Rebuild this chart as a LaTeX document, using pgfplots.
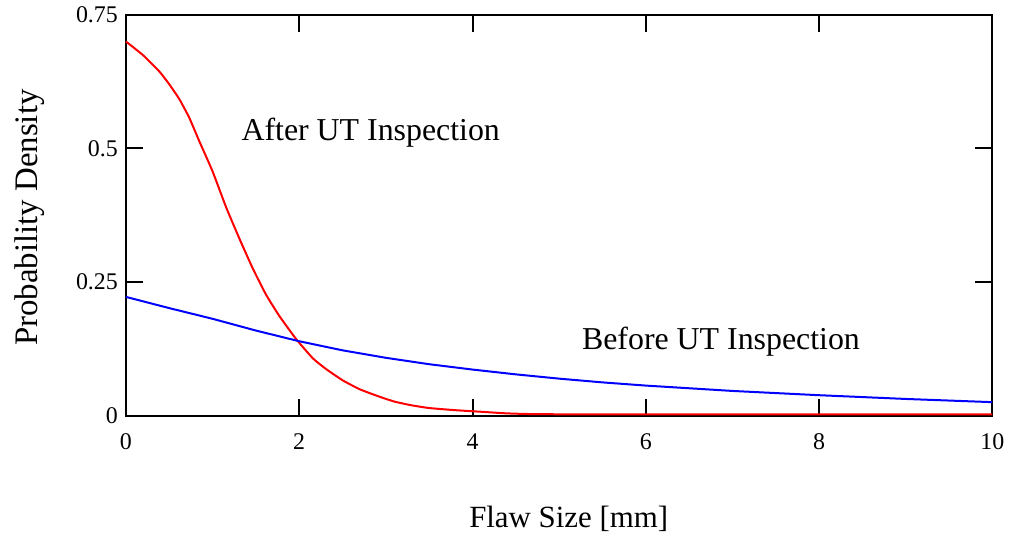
\documentclass[border=0pt]{standalone}
\usepackage{fontspec}
\setmainfont{Liberation Serif}
\usepackage{pgfplots}
\pgfplotsset{compat=1.18}

% flaw size density after UT inspection
\pgfplotstableread{
x y
0     0.700
0.2   0.674
0.385 0.644
0.5   0.620
0.617 0.592
0.732 0.557
0.848 0.513
1.0   0.457
1.156 0.390
1.31  0.331
1.465 0.275
1.618 0.226
1.772 0.186
1.965 0.143
2.158 0.107
2.31  0.087
2.5   0.066
2.7   0.049
2.913 0.036
3.1   0.026
3.3   0.019
3.5   0.014
3.8   0.010
4.1   0.007
4.4   0.004
4.76  0.0025
6     0.002
10    0.002
}\after

% flaw size density before UT inspection
\pgfplotstableread{
x y
0    0.222
0.5  0.201
1    0.181
1.5  0.159
2    0.139
2.5  0.122
3    0.108
3.5  0.096
4    0.086
4.5  0.077
5    0.069
5.5  0.062
6    0.056
7    0.046
8    0.038
9    0.031
10   0.025
}\before

\begin{document}
\begin{tikzpicture}
\begin{axis}[
  scale only axis,
  width=433.5bp, height=200.5bp,
  xmin=0, xmax=10, ymin=0, ymax=0.75,
  xtick={0,2,4,6,8,10},
  ytick={0,0.25,0.5,0.75},
  yticklabels={0,0.25,0.5,0.75},
  tick align=inside,
  major tick length=8.5bp,
  axis line style={line width=1bp},
  every tick/.style={black, line width=1bp},
  /pgf/number format/assume math mode=true,
  tick label style={font=\fontsize{12}{14}\selectfont},
  xticklabel style={yshift=-5.5bp},
  yticklabel style={xshift=-0.5bp},
  xlabel={Flaw Size [mm]},
  ylabel={Probability Density},
  label style={font=\fontsize{15.5}{18}\selectfont},
  ylabel style={font=\fontsize{16.5}{19}\selectfont},
  xlabel style={at={(rel axis cs:0.511,-0.259)}, anchor=center},
  ylabel style={at={(rel axis cs:-0.1107,0.494)}, anchor=center, rotate=0},
  clip=false,
]
\useasboundingbox (rel axis cs:-0.1453,-0.2943) rectangle (rel axis cs:1.0208,1.0299);
\addplot[red, line width=1bp, smooth, tension=0.3] table {\after};
\addplot[blue, line width=1bp] table {\before};
\node[anchor=west, font=\fontsize{16}{19}\selectfont, inner sep=0pt]
  at (axis cs:1.33,0.530) {After UT Inspection};
\node[anchor=west, font=\fontsize{16}{19}\selectfont, inner sep=0pt]
  at (axis cs:5.26,0.139) {Before UT Inspection};
\end{axis}
\end{tikzpicture}
\end{document}
